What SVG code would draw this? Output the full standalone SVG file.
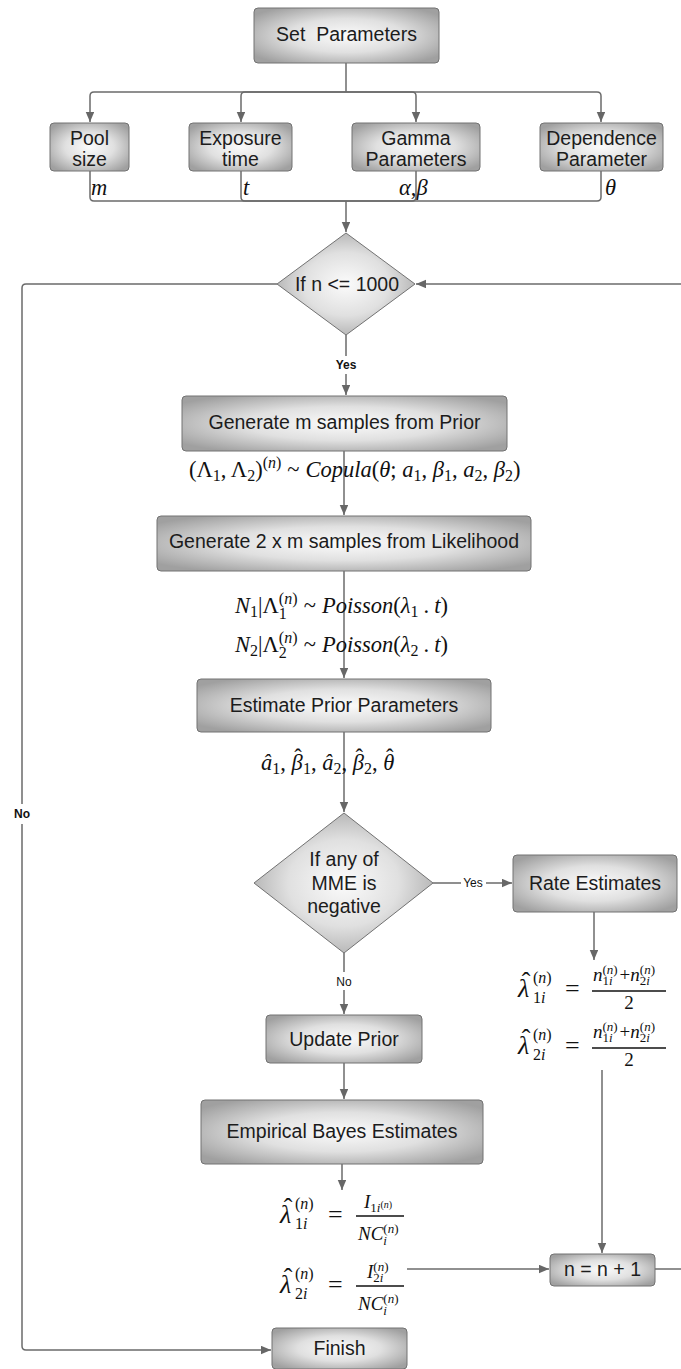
<svg xmlns="http://www.w3.org/2000/svg" width="681" height="1369" viewBox="0 0 681 1369">
  <defs>
    <radialGradient id="shade" cx="50%" cy="50%" r="62%">
      <stop offset="0" stop-color="#fbfbfb"/>
      <stop offset="0.5" stop-color="#e0e0e0"/>
      <stop offset="1" stop-color="#a0a0a0"/>
    </radialGradient>
    <marker id="arrow" markerUnits="userSpaceOnUse" markerWidth="11" markerHeight="9" refX="10" refY="4.25" orient="auto">
      <path d="M0,0 L10,4.25 L0,8.5 z" fill="#676767"/>
    </marker>
  </defs>
  <style>
    .box { fill: url(#shade); stroke: #727272; stroke-width: 1; }
    .lbl { font-family: "Liberation Sans", Arial, sans-serif; font-size: 19.5px; fill: #1c1c1c; text-anchor: middle; }
    .tag { font-family: "Liberation Sans", Arial, sans-serif; font-size: 12px; fill: #111; text-anchor: middle; }
    .tagb { font-weight: bold; }
    .conn { fill: none; stroke: #6b6b6b; stroke-width: 1.5; }
    .arr { marker-end: url(#arrow); }
    .m { font-family: "Liberation Serif", "Times New Roman", serif; font-size: 22.5px; fill: #111; }
    .big { font-size: 26px; }
    .mid { font-size: 19px; }
    .s { font-size: 16px; }
    .ss { font-size: 13px; }
    .sss { font-size: 10px; }
    .i { font-style: italic; }
    .bar { stroke: #111; stroke-width: 1.3; }
  </style>

  <!-- connectors -->
  <g id="connectors">
    <path class="conn" d="M346,63 V92"/>
    <path class="conn arr" d="M346,92 H94 Q90,92 90,96 V122"/>
    <path class="conn arr" d="M346,92 H245 Q241,92 241,96 V122"/>
    <path class="conn arr" d="M346,92 H412 Q416,92 416,96 V122"/>
    <path class="conn arr" d="M346,92 H597 Q601,92 601,96 V122"/>
    <path class="conn" d="M90,171 V197 Q90,201 94,201 H346"/>
    <path class="conn" d="M241,171 V197 Q241,201 245,201 H346"/>
    <path class="conn" d="M416,171 V197 Q416,201 412,201 H346"/>
    <path class="conn" d="M601,171 V197 Q601,201 597,201 H346"/>
    <path class="conn arr" d="M346,201 V232"/>
    <!-- loop exit: n > 1000 -->
    <path class="conn arr" d="M277,284 H26 Q22,284 22,288 V804 M22,824 V1346 Q22,1350 26,1350 H271"/>
    <!-- loop return from n = n + 1 -->
    <path class="conn arr" d="M681,284 H416"/>
    <path class="conn arr" d="M346,335 V356 M346,374 V395"/>
    <path class="conn arr" d="M344,451 V515"/>
    <path class="conn arr" d="M344,571 V678"/>
    <path class="conn arr" d="M344,732 V812"/>
    <path class="conn arr" d="M433,883 H461 M486,883 H512"/>
    <path class="conn arr" d="M344,953 V972 M344,990 V1014"/>
    <path class="conn arr" d="M344,1063 V1099"/>
    <path class="conn arr" d="M342,1164 V1190"/>
    <path class="conn arr" d="M594,912 V960"/>
    <path class="conn arr" d="M602,1070 V1253"/>
    <path class="conn arr" d="M407,1269 H549"/>
    <path class="conn" d="M655,1269 H681"/>
  </g>

  <!-- edge labels -->
  <g id="edge-labels">
    <text class="tag tagb" x="346" y="369">Yes</text>
    <text class="tag tagb" x="22" y="818">No</text>
    <text class="tag" x="473" y="887">Yes</text>
    <text class="tag" x="344" y="986">No</text>
  </g>

  <g id="set-parameters">
    <rect class="box" x="254" y="8" width="185" height="55" rx="4"/>
    <text class="lbl" x="346.5" y="41" xml:space="preserve">Set  Parameters</text>
  </g>

  <g id="pool-size">
    <rect class="box" x="50" y="123" width="79" height="48" rx="4"/>
    <text class="lbl" x="89.5" y="145">Pool</text>
    <text class="lbl" x="89.5" y="166">size</text>
    <text class="m i" x="91" y="195">m</text>
  </g>

  <g id="exposure-time">
    <rect class="box" x="189" y="123" width="103" height="48" rx="4"/>
    <text class="lbl" x="240.5" y="145">Exposure</text>
    <text class="lbl" x="240.5" y="166">time</text>
    <text class="m i" x="243" y="195">t</text>
  </g>

  <g id="gamma-parameters">
    <rect class="box" x="352" y="123" width="128" height="48" rx="4"/>
    <text class="lbl" x="416" y="145">Gamma</text>
    <text class="lbl" x="416" y="166">Parameters</text>
    <text class="m" x="399" y="195"><tspan class="i">α</tspan>,<tspan class="i">β</tspan></text>
  </g>

  <g id="dependence-parameter">
    <rect class="box" x="540" y="123" width="123" height="48" rx="4"/>
    <text class="lbl" x="601.5" y="145">Dependence</text>
    <text class="lbl" x="601.5" y="166">Parameter</text>
    <text class="m i" x="605" y="195">θ</text>
  </g>

  <g id="loop-check">
    <polygon class="box" points="346,233 415,284 346,335 277,284" stroke-linejoin="round"/>
    <text class="lbl" x="347" y="291">If n &lt;= 1000</text>
  </g>

  <g id="sample-prior">
    <rect class="box" x="182" y="396" width="325" height="55" rx="4"/>
    <text class="lbl" x="344.5" y="429">Generate m samples from Prior</text>
    <text class="m" x="189" y="477">(Λ<tspan class="s" y="481">1</tspan><tspan y="477">, Λ</tspan><tspan class="s" y="481">2</tspan><tspan y="477">)</tspan><tspan class="s" y="468">(<tspan class="i">n</tspan>)</tspan><tspan y="477" dx="6">~</tspan><tspan class="i" dx="6">Copula</tspan>(<tspan class="i">θ</tspan>; <tspan class="i">a</tspan><tspan class="s" y="481">1</tspan><tspan y="477">, </tspan><tspan class="i">β</tspan><tspan class="s" y="481">1</tspan><tspan y="477">, </tspan><tspan class="i">a</tspan><tspan class="s" y="481">2</tspan><tspan y="477">, </tspan><tspan class="i">β</tspan><tspan class="s" y="481">2</tspan><tspan y="477">)</tspan></text>
  </g>

  <g id="sample-likelihood">
    <rect class="box" x="157" y="516" width="374" height="55" rx="4"/>
    <text class="lbl" x="344" y="548">Generate 2 x m samples from Likelihood</text>
    <text class="m" x="235" y="613"><tspan class="i">N</tspan><tspan class="s" y="617">1</tspan><tspan y="613">|Λ</tspan><tspan class="s" y="604">(<tspan class="i">n</tspan>)</tspan><tspan class="s" y="619" dx="-18.7">1</tspan><tspan y="613" dx="17">~</tspan><tspan class="i" dx="6">Poisson</tspan>(<tspan class="i">λ</tspan><tspan class="s" y="617">1</tspan><tspan y="613" dx="5">.</tspan><tspan class="i" dx="5">t</tspan>)</text>
    <text class="m" x="235" y="652"><tspan class="i">N</tspan><tspan class="s" y="656">2</tspan><tspan y="652">|Λ</tspan><tspan class="s" y="643">(<tspan class="i">n</tspan>)</tspan><tspan class="s" y="658" dx="-18.7">2</tspan><tspan y="652" dx="17">~</tspan><tspan class="i" dx="6">Poisson</tspan>(<tspan class="i">λ</tspan><tspan class="s" y="656">2</tspan><tspan y="652" dx="5">.</tspan><tspan class="i" dx="5">t</tspan>)</text>
  </g>

  <g id="estimate-prior">
    <rect class="box" x="197" y="679" width="294" height="53" rx="4"/>
    <text class="lbl" x="344" y="712">Estimate Prior Parameters</text>
    <text class="m" x="261" y="770"><tspan class="i">â</tspan><tspan class="s" y="774">1</tspan><tspan y="770">, </tspan><tspan class="i">β</tspan><tspan y="765" dx="-8.5">ˆ</tspan><tspan class="s" y="774" dx="1.2">1</tspan><tspan y="770">, </tspan><tspan class="i">â</tspan><tspan class="s" y="774">2</tspan><tspan y="770">, </tspan><tspan class="i">β</tspan><tspan y="765" dx="-8.5">ˆ</tspan><tspan class="s" y="774" dx="1.2">2</tspan><tspan y="770">, </tspan><tspan class="i">θ</tspan><tspan y="765" dx="-8.5">ˆ</tspan></text>
  </g>

  <g id="mme-check">
    <polygon class="box" points="344,813 433,883 344,953 254,883" stroke-linejoin="round"/>
    <text class="lbl" x="344" y="866">If any of</text>
    <text class="lbl" x="344" y="890">MME is</text>
    <text class="lbl" x="344" y="913">negative</text>
  </g>

  <g id="rate-estimates">
    <rect class="box" x="513" y="855" width="164" height="57" rx="4"/>
    <text class="lbl" x="595" y="890">Rate Estimates</text>
    <!-- lambda_1i -->
    <text class="m big i" x="518" y="997">λ</text>
    <text class="m big" x="526" y="990" text-anchor="middle">ˆ</text>
    <text class="m" x="533" y="983"><tspan class="s">(<tspan class="i">n</tspan>)</tspan></text>
    <text class="m" x="533" y="1003"><tspan class="s">1<tspan class="i">i</tspan></tspan></text>
    <text class="m big" x="565" y="997">=</text>
    <line class="bar" x1="592" y1="991" x2="666" y2="991"/>
    <text class="m mid" x="593" y="981"><tspan class="i">n</tspan><tspan class="ss" y="974">(<tspan class="i">n</tspan>)</tspan><tspan class="ss" y="985" dx="-15.2">1<tspan class="i">i</tspan></tspan><tspan y="981" dx="7">+</tspan><tspan class="i">n</tspan><tspan class="ss" y="974">(<tspan class="i">n</tspan>)</tspan><tspan class="ss" y="985" dx="-15.2">2<tspan class="i">i</tspan></tspan></text>
    <text class="m mid" x="629" y="1009" text-anchor="middle">2</text>
    <!-- lambda_2i -->
    <text class="m big i" x="518" y="1054">λ</text>
    <text class="m big" x="526" y="1047" text-anchor="middle">ˆ</text>
    <text class="m" x="533" y="1040"><tspan class="s">(<tspan class="i">n</tspan>)</tspan></text>
    <text class="m" x="533" y="1060"><tspan class="s">2<tspan class="i">i</tspan></tspan></text>
    <text class="m big" x="565" y="1054">=</text>
    <line class="bar" x1="592" y1="1048" x2="666" y2="1048"/>
    <text class="m mid" x="593" y="1038"><tspan class="i">n</tspan><tspan class="ss" y="1031">(<tspan class="i">n</tspan>)</tspan><tspan class="ss" y="1042" dx="-15.2">1<tspan class="i">i</tspan></tspan><tspan y="1038" dx="7">+</tspan><tspan class="i">n</tspan><tspan class="ss" y="1031">(<tspan class="i">n</tspan>)</tspan><tspan class="ss" y="1042" dx="-15.2">2<tspan class="i">i</tspan></tspan></text>
    <text class="m mid" x="629" y="1066" text-anchor="middle">2</text>
  </g>

  <g id="update-prior">
    <rect class="box" x="266" y="1015" width="156" height="48" rx="4"/>
    <text class="lbl" x="344" y="1046">Update Prior</text>
  </g>

  <g id="empirical-bayes">
    <rect class="box" x="201" y="1100" width="282" height="64" rx="4"/>
    <text class="lbl" x="342" y="1138">Empirical Bayes Estimates</text>
    <!-- lambda_1i -->
    <text class="m big i" x="280" y="1223">λ</text>
    <text class="m big" x="288" y="1216" text-anchor="middle">ˆ</text>
    <text class="m" x="295" y="1209"><tspan class="s">(<tspan class="i">n</tspan>)</tspan></text>
    <text class="m" x="295" y="1229"><tspan class="s">1<tspan class="i">i</tspan></tspan></text>
    <text class="m big" x="328" y="1223">=</text>
    <line class="bar" x1="356" y1="1216" x2="404" y2="1216"/>
    <text class="m mid" x="364" y="1208"><tspan class="i">I</tspan><tspan class="ss" y="1212">1<tspan class="i">i</tspan></tspan><tspan class="sss" y="1208">(<tspan class="i">n</tspan>)</tspan></text>
    <text class="m mid" x="358" y="1240"><tspan class="i">NC</tspan><tspan class="ss" y="1233">(<tspan class="i">n</tspan>)</tspan><tspan class="ss i" y="1245" dx="-15.2">i</tspan></text>
    <!-- lambda_2i -->
    <text class="m big i" x="280" y="1293">λ</text>
    <text class="m big" x="288" y="1286" text-anchor="middle">ˆ</text>
    <text class="m" x="295" y="1279"><tspan class="s">(<tspan class="i">n</tspan>)</tspan></text>
    <text class="m" x="295" y="1299"><tspan class="s">2<tspan class="i">i</tspan></tspan></text>
    <text class="m big" x="328" y="1293">=</text>
    <line class="bar" x1="356" y1="1286" x2="404" y2="1286"/>
    <text class="m mid" x="367" y="1278"><tspan class="i">I</tspan><tspan class="ss" y="1271">(<tspan class="i">n</tspan>)</tspan><tspan class="ss" y="1282" dx="-15.2">2<tspan class="i">i</tspan></tspan></text>
    <text class="m mid" x="358" y="1310"><tspan class="i">NC</tspan><tspan class="ss" y="1303">(<tspan class="i">n</tspan>)</tspan><tspan class="ss i" y="1315" dx="-15.2">i</tspan></text>
  </g>

  <g id="increment">
    <rect class="box" x="550" y="1254" width="105" height="32" rx="4"/>
    <text class="lbl" x="602.5" y="1276">n = n + 1</text>
  </g>

  <g id="finish">
    <rect class="box" x="272" y="1328" width="135" height="41" rx="4"/>
    <text class="lbl" x="339.5" y="1355">Finish</text>
  </g>
</svg>
